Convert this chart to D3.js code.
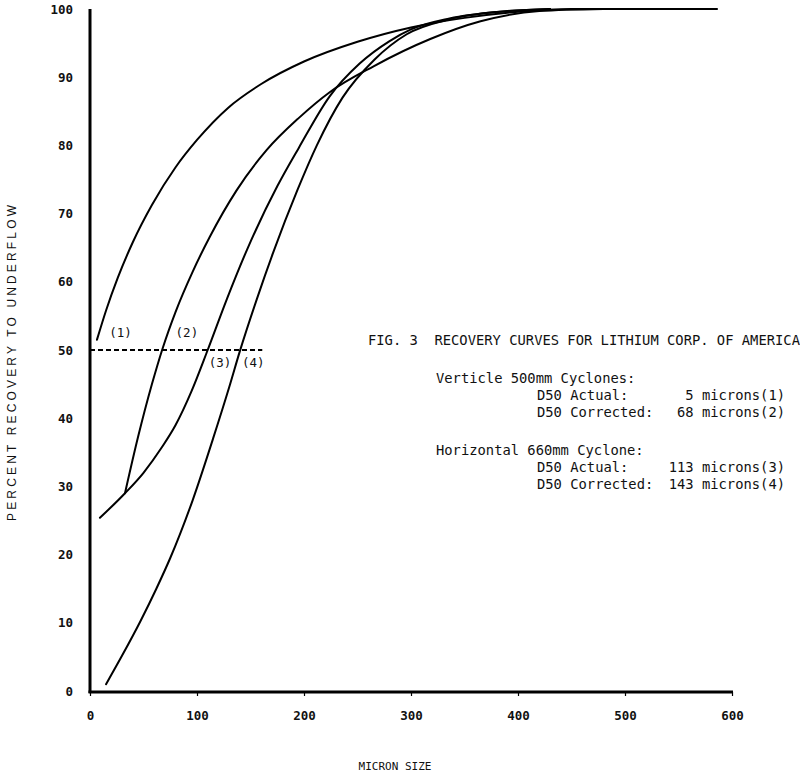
<!DOCTYPE html>
<html>
<head>
<meta charset="utf-8">
<script src="https://cdn.jsdelivr.net/npm/d3@7"></script>
<style>
  html, body { margin: 0; padding: 0; background: #fff; }
  svg { display: block; }
  text { white-space: pre; }
</style>
</head>
<body>
<script>
// ---- data (micron size, percent recovery) ----
const xTickValues = [0, 100, 200, 300, 400, 500, 600];
const yTickValues = [0, 10, 20, 30, 40, 50, 60, 70, 80, 90, 100];

const curve1 = [[6.5,51.5],[15,55.8],[26,60.6],[40,65.8],[58,71.3],[80,76.8],[100,80.8],[129,85.5],[160,89],[200,92.3],[250,95.2],[300,97.3],[350,98.7],[400,99.6],[450,100],[586,100]];
const curve2 = [[32.7,29],[45,37.3],[57.9,45],[68,50.3],[80,55.6],[96,61.5],[112,66.6],[137,73.4],[165,79.3],[195,84],[224,87.8],[265,91.6],[318,95.6],[365,98.2],[420,99.7],[480,100]];
const curve3 = [[9.3,25.4],[32.7,29],[50,32],[67,35.7],[80,39],[95,44],[110,50],[128,57.5],[147,64.8],[175,74],[195,79.6],[224,87.2],[252,92],[280,95.3],[300,97],[336,98.6],[383,99.6],[430,100]];
const curve4 = [[15,1],[30,5.2],[47,10.2],[62,15],[75,19.5],[96,28],[115,37],[130,44.5],[140,49.8],[156,57.5],[171,64.2],[194,73.5],[212,80],[236,87],[266,92.6],[296,96.3],[336,98.5],[383,99.6],[430,100]];
const d50Line = [[0,50],[161,50]];

const curveLabels = [
  {text: "(1)", x: 18, y: 52.4},
  {text: "(2)", x: 80, y: 52.4},
  {text: "(3)", x: 111, y: 48.0},
  {text: "(4)", x: 142, y: 48.0}
];

const legendLines = [
  {text: "FIG. 3  RECOVERY CURVES FOR LITHIUM CORP. OF AMERICA", col: 0, y: 341},
  {text: "Verticle 500mm Cyclones:", col: 1, y: 379},
  {text: "D50 Actual:", col: 2, y: 396, value: "5 microns(1)"},
  {text: "D50 Corrected:", col: 2, y: 413, value: "68 microns(2)"},
  {text: "Horizontal 660mm Cyclone:", col: 1, y: 451},
  {text: "D50 Actual:", col: 2, y: 468, value: "113 microns(3)"},
  {text: "D50 Corrected:", col: 2, y: 485, value: "143 microns(4)"}
];

const xTitle = "MICRON SIZE";
const yTitle = "PERCENT RECOVERY TO UNDERFLOW";

// ---- drawing ----
const W = 800, H = 774;
const svg = d3.select("body").append("svg").attr("width", W).attr("height", H);

const x = d3.scaleLinear().domain([0, 600]).range([90, 732]);
const y = d3.scaleLinear().domain([0, 100]).range([691, 9]);

const monoFont = "'DejaVu Sans Mono', 'Liberation Mono', monospace";

// axes lines
svg.append("line").attr("x1", x(0)).attr("x2", x(0)).attr("y1", 9).attr("y2", 693)
  .attr("stroke", "#000").attr("stroke-width", 3);
svg.append("line").attr("x1", x(0) - 1.5).attr("x2", x(600) + 1).attr("y1", 692).attr("y2", 692)
  .attr("stroke", "#000").attr("stroke-width", 3);

// x axis ticks / labels
const xAxis = d3.axisBottom(x).tickValues(xTickValues).tickSize(4).tickPadding(15).tickFormat(d3.format("d"));
const gx = svg.append("g").attr("transform", "translate(0,692)").call(xAxis);
gx.select(".domain").remove();
gx.selectAll(".tick line").attr("stroke", "#000").attr("stroke-width", 1.2);
gx.selectAll(".tick text").attr("font-family", monoFont).attr("font-size", 12.5)
  .attr("font-weight", "bold").attr("fill", "#111");

// y axis labels
const yAxis = d3.axisLeft(y).tickValues(yTickValues).tickSize(0).tickPadding(17).tickFormat(d3.format("d"));
const gy = svg.append("g").attr("transform", `translate(${x(0)},0)`).call(yAxis);
gy.select(".domain").remove();
gy.selectAll(".tick text").attr("font-family", monoFont).attr("font-size", 12.5)
  .attr("font-weight", "bold").attr("fill", "#111");

// curves
const line = d3.line().x(d => x(d[0])).y(d => y(d[1])).curve(d3.curveMonotoneX);
[curve1, curve2, curve3, curve4].forEach(c => {
  svg.append("path").datum(c).attr("d", line)
    .attr("fill", "none").attr("stroke", "#000").attr("stroke-width", 2)
    .attr("stroke-linecap", "round").attr("stroke-linejoin", "round");
});

// D50 dashed line
svg.append("path").datum(d50Line).attr("d", d3.line().x(d => x(d[0])).y(d => y(d[1])))
  .attr("fill", "none").attr("stroke", "#000").attr("stroke-width", 2)
  .attr("stroke-dasharray", "5,3");

// curve labels
svg.selectAll("text.clabel").data(curveLabels).enter().append("text")
  .attr("class", "clabel")
  .attr("x", d => x(d.x)).attr("y", d => y(d.y))
  .attr("dominant-baseline", "middle")
  .attr("font-family", monoFont).attr("font-size", 12.5).attr("fill", "#111")
  .text(d => d.text);

// legend / caption
const colX = [368, 436, 537];
legendLines.forEach(l => {
  svg.append("text").attr("x", colX[l.col]).attr("y", l.y)
    .attr("dominant-baseline", "middle")
    .attr("font-family", monoFont).attr("font-size", 13.8).attr("fill", "#111")
    .text(l.text);
  if (l.value) {
    svg.append("text").attr("x", 785).attr("y", l.y)
      .attr("dominant-baseline", "middle").attr("text-anchor", "end")
      .attr("font-family", monoFont).attr("font-size", 13.8).attr("fill", "#111")
      .text(l.value);
  }
});

// axis titles
svg.append("text").attr("x", 395).attr("y", 767)
  .attr("text-anchor", "middle").attr("dominant-baseline", "middle")
  .attr("font-family", monoFont).attr("font-size", 11).attr("fill", "#111")
  .text(xTitle);

svg.append("text")
  .attr("transform", "translate(13,363) rotate(-90)")
  .attr("text-anchor", "middle").attr("dominant-baseline", "middle")
  .attr("font-family", "'Liberation Sans', Arial, sans-serif").attr("font-size", 12)
  .attr("textLength", 316).attr("lengthAdjust", "spacing")
  .attr("fill", "#111")
  .text(yTitle);
</script>
</body>
</html>
